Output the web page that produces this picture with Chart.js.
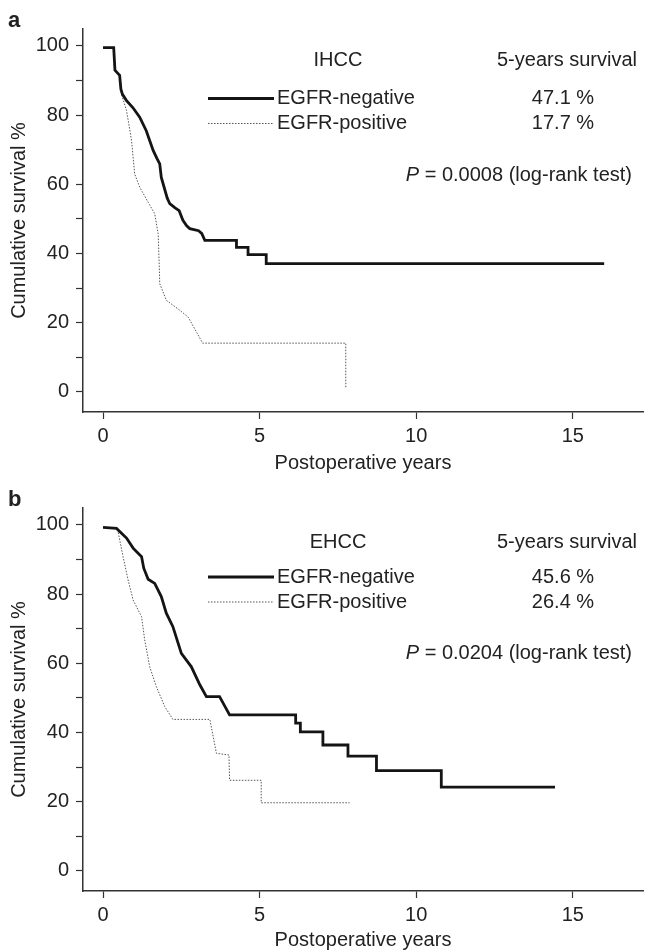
<!DOCTYPE html>
<html>
<head>
<meta charset="utf-8">
<script src="https://cdn.jsdelivr.net/npm/chart.js@4.4.1/dist/chart.umd.min.js"></script>
<style>
  html, body { margin: 0; padding: 0; background: #fff; }
  .panel { position: absolute; left: 0; width: 645px; height: 476px; }
  #panelA { top: 0; }
  #panelB { top: 476px; }
</style>
</head>
<body>
<div class="panel" id="panelA"><canvas id="chartA" width="645" height="476"></canvas></div>
<div class="panel" id="panelB"><canvas id="chartB" width="645" height="476"></canvas></div>
<script>
// axis ticks
var xTicks = [0, 5, 10, 15];
var yTicks = [0, 10, 20, 30, 40, 50, 60, 70, 80, 90, 100];
var seriesNames = ['EGFR-negative', 'EGFR-positive'];

// panel a: IHCC
var aNegYears = [0, 0.34, 0.38, 0.45, 0.53, 0.57, 0.62, 0.75, 0.95, 1.17, 1.38, 1.6, 1.72, 1.81, 1.86, 1.92, 2.05, 2.13, 2.3, 2.43, 2.55, 2.67, 2.77, 3.05, 3.15, 3.25, 4.26, 4.26, 4.63, 4.63, 5.21, 5.21, 16.0];
var aNegSurv  = [99.5, 99.5, 93, 92.3, 91.5, 87.5, 86, 84.2, 82.2, 79.4, 75.5, 69.8, 67.5, 65.9, 62, 60.1, 56, 54.4, 53.2, 52.4, 49.6, 48, 47.2, 46.6, 45.8, 43.8, 43.8, 41.8, 41.8, 39.7, 39.7, 37.1, 37.1];
var aPosYears = [0, 0.34, 0.38, 0.53, 0.59, 0.75, 0.85, 0.91, 1.01, 1.17, 1.44, 1.65, 1.76, 1.8, 1.81, 2.02, 2.45, 2.72, 3.18, 7.75, 7.75];
var aPosSurv  = [99.5, 99.5, 93, 91.5, 86, 81.3, 76, 72.6, 63, 59.2, 54.8, 51.5, 45.7, 35, 31.3, 26.5, 23.6, 21.6, 14.1, 14.1, 1.3];
var aFiveYear = ['47.1 %', '17.7 %'];

// panel b: EHCC
var bNegYears = [0, 0.43, 0.59, 0.75, 0.96, 1.23, 1.3, 1.44, 1.65, 1.86, 2.02, 2.23, 2.5, 2.82, 3.09, 3.3, 3.72, 4.04, 6.15, 6.15, 6.3, 6.3, 7.02, 7.02, 7.82, 7.82, 8.73, 8.73, 10.8, 10.8, 14.43];
var bNegSurv  = [99.3, 99, 97.6, 96.2, 93.3, 90.8, 87.5, 84.3, 83.1, 79.3, 74.5, 70.6, 62.9, 59.0, 53.8, 50.4, 50.4, 45.1, 45.1, 42.7, 42.7, 40.2, 40.2, 36.4, 36.4, 33.2, 33.2, 29, 29, 24.2, 24.2];
var bPosYears = [0, 0.43, 0.48, 0.64, 0.8, 0.96, 1.23, 1.33, 1.49, 1.7, 1.97, 2.23, 3.41, 3.62, 4.02, 4.04, 5.05, 5.05, 7.87];
var bPosSurv  = [99.3, 99, 98, 90.8, 84.1, 78.3, 73.5, 66.8, 59.0, 53.3, 47.5, 43.8, 43.8, 34, 33.5, 26.2, 26.2, 19.7, 19.7];
var bFiveYear = ['45.6 %', '26.4 %'];

var FONT = '"Liberation Sans", Arial, Helvetica, sans-serif';
var INK = '#222';

function toPoints(xs, ys) {
    return xs.map(function(x, i) { return { x: x, y: ys[i] }; });
}

// texts and legend samples drawn over each panel
function notesPlugin(p) {
    return {
        id: 'notes' + p.letter,
        afterDraw: function(chart) {
            var ctx = chart.ctx;
            ctx.save();
            ctx.fillStyle = INK;
            ctx.textBaseline = 'alphabetic';
            ctx.textAlign = 'left';
            ctx.font = 'bold 22px ' + FONT;
            ctx.fillText(p.letter, 8, p.letterY);

            ctx.font = '20px ' + FONT;
            ctx.textBaseline = 'middle';
            ctx.textAlign = 'center';
            ctx.fillText(p.group, 338, p.headY);
            ctx.fillText('5-years survival', 567, p.headY);
            ctx.fillText(p.fiveYear[0], 563, p.row1);
            ctx.fillText(p.fiveYear[1], 563, p.row2);

            ctx.textAlign = 'left';
            ctx.fillText(seriesNames[0], 277, p.row1);
            ctx.fillText(seriesNames[1], 277, p.row2);

            ctx.strokeStyle = '#141414';
            ctx.lineWidth = 2.8;
            ctx.beginPath();
            ctx.moveTo(208, p.row1);
            ctx.lineTo(274, p.row1);
            ctx.stroke();
            ctx.strokeStyle = '#555';
            ctx.lineWidth = 1;
            ctx.setLineDash([1.5, 1.5]);
            ctx.beginPath();
            ctx.moveTo(208, p.row2);
            ctx.lineTo(274, p.row2);
            ctx.stroke();
            ctx.setLineDash([]);

            // P value, right aligned
            var rest = ' = ' + p.pValue + ' (log-rank test)';
            ctx.font = '20px ' + FONT;
            var wRest = ctx.measureText(rest).width;
            ctx.font = 'italic 20px ' + FONT;
            var wP = ctx.measureText('P').width;
            var x0 = 632 - wRest - wP;
            ctx.fillText('P', x0, p.pY);
            ctx.font = '20px ' + FONT;
            ctx.fillText(rest, x0 + wP, p.pY);
            ctx.restore();
        }
    };
}

function makeChart(id, p) {
    return new Chart(document.getElementById(id), {
        type: 'line',
        data: {
            datasets: [{
                label: seriesNames[0],
                data: toPoints(p.negYears, p.negSurv),
                borderColor: '#141414',
                borderWidth: 2.8,
                pointRadius: 0,
                tension: 0,
                fill: false,
                order: 1
            }, {
                label: seriesNames[1],
                data: toPoints(p.posYears, p.posSurv),
                borderColor: '#555',
                borderWidth: 1,
                borderDash: [1.5, 1.5],
                pointRadius: 0,
                tension: 0,
                fill: false,
                order: 2
            }]
        },
        options: {
            responsive: false,
            animation: false,
            devicePixelRatio: 1,
            layout: { padding: { top: p.top, right: 2, left: 0, bottom: 0 } },
            plugins: { legend: { display: false }, tooltip: { enabled: false } },
            scales: {
                x: {
                    type: 'linear',
                    min: -0.64,
                    max: 17.24,
                    afterBuildTicks: function(s) { s.ticks = xTicks.map(function(v) { return { value: v }; }); },
                    afterFit: function(s) { s.height = p.xAxisHeight; },
                    grid: { drawOnChartArea: false, tickLength: 7, tickColor: '#333', tickWidth: 1.2 },
                    border: { color: '#333', width: 1.5 },
                    ticks: { color: INK, padding: 5, font: { family: FONT, size: 20 }, maxRotation: 0 },
                    title: { display: true, text: 'Postoperative years', color: INK, font: { family: FONT, size: 20, lineHeight: 1.2 }, padding: { top: 0, bottom: p.xTitlePad } }
                },
                y: {
                    type: 'linear',
                    min: -5.8,
                    max: 104.9,
                    afterBuildTicks: function(s) { s.ticks = yTicks.map(function(v) { return { value: v }; }); },
                    afterFit: function(s) { s.width = 83; },
                    grid: { drawOnChartArea: false, tickLength: 7, tickColor: '#333', tickWidth: 1.2 },
                    border: { color: '#333', width: 1.5 },
                    ticks: {
                        color: INK, padding: 7, font: { family: FONT, size: 20 },
                        callback: function(v) { return v % 20 === 0 ? v : ''; }
                    },
                    title: { display: true, text: 'Cumulative survival %', color: INK, font: { family: FONT, size: 20, lineHeight: 1.2 }, padding: { top: 7, bottom: 0 } }
                }
            }
        },
        plugins: [notesPlugin(p)]
    });
}

makeChart('chartA', {
    letter: 'a', letterY: 27, group: 'IHCC', fiveYear: aFiveYear, pValue: '0.0008',
    headY: 60, row1: 98.5, row2: 123.5, pY: 175,
    negYears: aNegYears, negSurv: aNegSurv, posYears: aPosYears, posSurv: aPosSurv,
    top: 29, xAxisHeight: 64, xTitlePad: 1
});

makeChart('chartB', {
    letter: 'b', letterY: 30, group: 'EHCC', fiveYear: bFiveYear, pValue: '0.0204',
    headY: 66, row1: 101, row2: 126, pY: 177,
    negYears: bNegYears, negSurv: bNegSurv, posYears: bPosYears, posSurv: bPosSurv,
    top: 32, xAxisHeight: 61, xTitlePad: 0
});
</script>
</body>
</html>
